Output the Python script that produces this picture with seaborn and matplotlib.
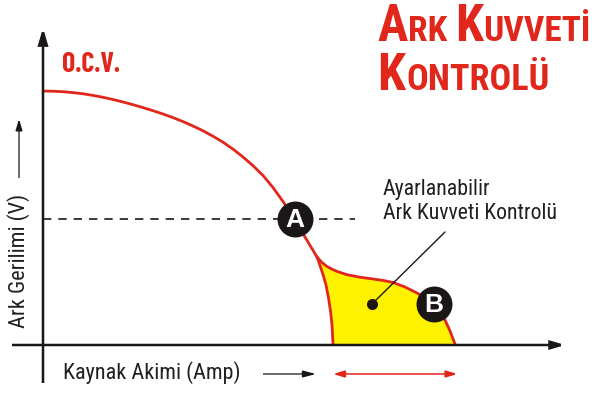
import matplotlib
matplotlib.use("Agg")
import matplotlib.pyplot as plt
import seaborn as sns

sns.set_theme(style="white")
FONT = ["Roboto Condensed", "Liberation Sans", "DejaVu Sans"]
plt.rcParams["font.family"] = FONT

# Data (amps / volts in arbitrary chart units, origin at the axes crossing)
main_amp = [0, 10, 20, 30, 40, 50, 60, 70, 80, 90, 100, 110, 120, 130, 140, 150, 160, 170, 180, 190,
            200, 210, 220, 230, 240, 246, 252, 257, 262, 268, 274]
main_volt = [254, 253.8, 253.3, 252.4, 251.2, 249.6, 247.7, 245.5, 243, 240.3, 237.4, 234.3, 231, 227.4,
             223.4, 219, 214.2, 208.8, 202.8, 195.9, 188, 179.3, 169.5, 157.5, 143.5, 134.5, 125, 116.7,
             108, 98, 88]
upper_amp = [274, 279, 284, 289, 294, 304, 317, 330, 340, 350, 362, 374, 384, 391, 397, 402, 407, 412]
upper_volt = [88, 82.5, 78.5, 75.8, 73.6, 70.3, 67.8, 66, 64.6, 62.5, 58, 52, 46, 41, 33.5, 25, 14, 1]
lower_amp = [274, 277, 280, 283, 285.5, 287.5, 289, 290]
lower_volt = [88, 79.5, 70.5, 60, 47, 34, 20, 1]
dash_amp = [0, 312]
dash_volt = [126, 126]
point_labels = ["A", "B"]
point_amp = [252, 391]
point_volt = [126, 41]

RED = "#e1261c"
BLACK = "#1a1716"
YELLOW = "#fff200"
TXT = "#231f20"

fig = plt.figure(figsize=(5.94, 3.93), dpi=100)
ax = fig.add_axes([0, 0, 1, 1])
ax.set_xlim(-43, 551)
ax.set_ylim(-48, 345)
ax.axis("off")

ax.fill(upper_amp + lower_amp[::-1], upper_volt + lower_volt[::-1], color=YELLOW, lw=0, zorder=1)

sns.lineplot(x=dash_amp, y=dash_volt, ax=ax, color=BLACK, lw=1.2, sort=False, errorbar=None,
             linestyle=(0, (5, 4.2)), zorder=2)

for xs, ys in [(main_amp, main_volt), (upper_amp, upper_volt), (lower_amp, lower_volt)]:
    sns.lineplot(x=xs, y=ys, ax=ax, color=RED, lw=2.0, sort=False, errorbar=None, zorder=3)
for l in ax.get_lines():
    l.set_solid_joinstyle("round")
    l.set_solid_capstyle("round")


def arrow(p0, p1, color=BLACK, style="-|>", lw=1.5, hl=9.0, hw=2.9, z=4):
    ax.annotate("", xy=p1, xytext=p0, zorder=z,
                arrowprops=dict(arrowstyle=f"{style},head_length={hl},head_width={hw}",
                                color=color, lw=lw, shrinkA=0, shrinkB=0, mutation_scale=1,
                                joinstyle="miter", capstyle="butt"))


# Axes
arrow((0, -38), (0, 317), lw=1.8, hl=9.5, hw=2.8)
arrow((-31, 0), (522, 0), lw=1.8, hl=8, hw=2.4)

# Small direction arrows
arrow((-24, 167), (-24, 226), lw=0.9, hl=7, hw=2.1)
arrow((220, -29), (273, -29), lw=0.9, hl=8, hw=2.1)
arrow((290, -29), (414.5, -29), color=RED, style="<|-|>", lw=1.1, hl=7, hw=2.1)

# Pointer with dot
ax.plot([402, 329], [113, 41], color=BLACK, lw=1.0, zorder=5)
ax.plot([329], [41], "o", color=BLACK, ms=8, zorder=5, mec="none")

# Badges
sns.scatterplot(x=point_amp, y=point_volt, ax=ax, s=670, color=BLACK, linewidth=0, zorder=6)
for lab, xv, yv in zip(point_labels, point_amp, point_volt):
    ax.text(xv, yv - 1, lab, color="white", fontsize=19, fontweight="bold", ha="center", va="center",
            family=["Liberation Sans", "DejaVu Sans"], zorder=7)

# Text
ax.text(19, 280, "O.C.V.", color=RED, fontsize=20, fontweight="bold", ha="left", va="center",
        family=["Barlow Condensed", "Roboto Condensed", "Liberation Sans"])
ax.text(20, -28, "Kaynak Akimi (Amp)", color=TXT, fontsize=15.9, ha="left", va="center")
ax.text(-24, 84, "Ark Gerilimi (V)", color=TXT, fontsize=16, rotation=90, ha="center", va="center")
ax.text(340, 155.5, "Ayarlanabilir", color=TXT, fontsize=15.7, ha="left", va="center")
ax.text(340, 131.5, "Ark Kuvveti Kontrolü", color=TXT, fontsize=15.7, ha="left", va="center")


def small_caps(x, y, parts):
    """Draw (text, size) pieces one after another from data position x, y."""
    fig.canvas.draw()
    r = fig.canvas.get_renderer()
    cur = x
    for s, size in parts:
        t = ax.text(cur, y, s, color=RED, fontsize=size, fontweight="bold", ha="left", va="baseline")
        bb = t.get_window_extent(r)
        cur = ax.transData.inverted().transform((bb.x1, bb.y0))[0] + 0.5


small_caps(334.5, 304, [("A", 36.5), ("RK", 25.5), (" ", 20), ("K", 36.5), ("UVVETİ", 25.5)])
small_caps(334.5, 255, [("K", 36.5), ("ONTROLÜ", 26)])

fig.savefig("out.png", dpi=100)
